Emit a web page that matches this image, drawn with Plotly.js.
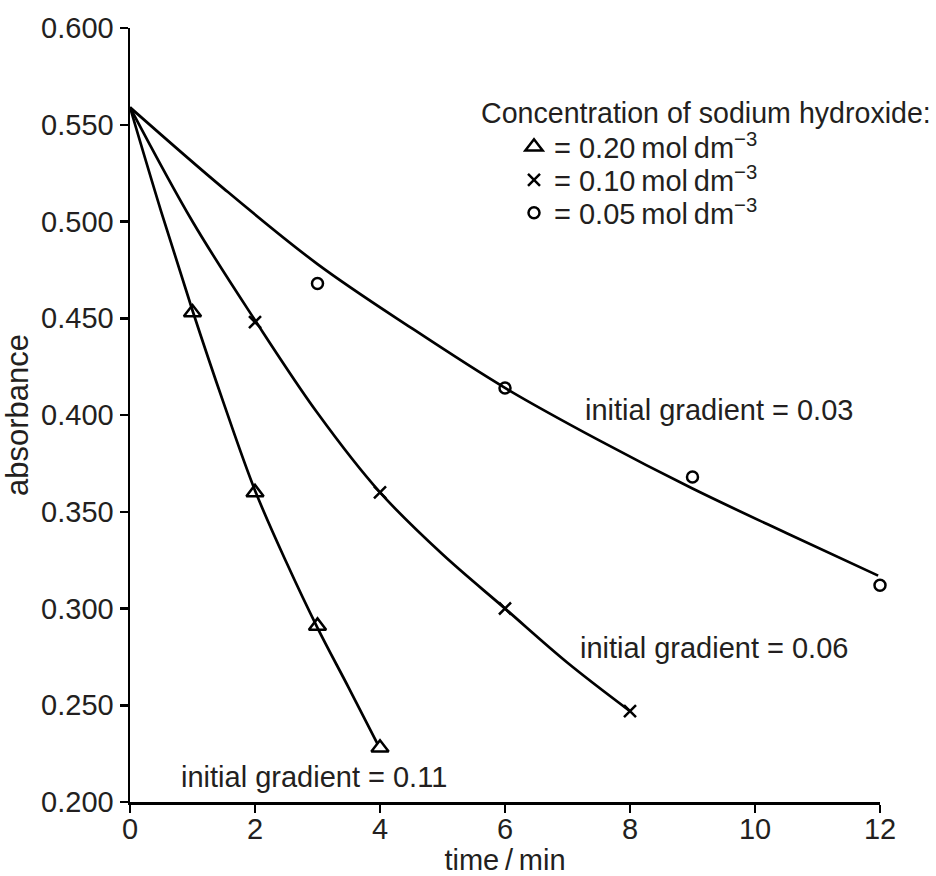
<!DOCTYPE html>
<html>
<head>
<meta charset="utf-8">
<script src="https://cdn.plot.ly/plotly-3.0.1.min.js"></script>
<style>html,body{margin:0;padding:0;background:#fff;}</style>
</head>
<body>
<div id="chart" style="width:936px;height:876px;"></div>
<script>
// measured points
const triTime = [1, 2, 3, 4];
const triAbs = [0.453, 0.360, 0.291, 0.228];
const crossTime = [2, 4, 6, 8];
const crossAbs = [0.448, 0.360, 0.300, 0.247];
const circTime = [3, 6, 9, 12];
const circAbs = [0.468, 0.414, 0.368, 0.312];

// hand-drawn best-fit curves
const triCurveTime = [0, 0.5, 1, 1.5, 2, 2.5, 3, 3.5, 3.96];
const triCurveAbs = [0.559, 0.505, 0.454, 0.406, 0.361, 0.324, 0.290, 0.259, 0.230];
const crossCurveTime = [0, 1, 2, 3, 4, 5, 6, 7, 8];
const crossCurveAbs = [0.559, 0.500, 0.449, 0.401, 0.360, 0.328, 0.300, 0.272, 0.247];
const circCurveTime = [0, 1.5, 3, 4.5, 6, 7.5, 9, 10.5, 11.97];
const circCurveAbs = [0.559, 0.517, 0.478, 0.445, 0.414, 0.387, 0.362, 0.339, 0.317];

const seriesNames = [
  '= 0.20\u2009mol\u2009dm<sup>\u22123</sup>',
  '= 0.10\u2009mol\u2009dm<sup>\u22123</sup>',
  '= 0.05\u2009mol\u2009dm<sup>\u22123</sup>'
];
const legendTitle = 'Concentration of sodium hydroxide:';
const gradientLabels = ['initial gradient = 0.11', 'initial gradient = 0.06', 'initial gradient = 0.03'];

const FONT = 'Liberation Sans, Arial, Helvetica, sans-serif';
const TXT = '#231f20';
const FS = 29;

function curve(x, y) {
  return {x: x, y: y, mode: 'lines', type: 'scatter', showlegend: false,
    hoverinfo: 'skip', line: {color: '#000', width: 2.7, shape: 'spline', smoothing: 1},
    cliponaxis: false};
}
function pts(x, y, name, symbol, size, lg) {
  return {x: x, y: y, mode: 'markers', type: 'scatter', name: name, legend: lg,
    marker: {symbol: symbol, size: size, color: '#000', line: {color: '#000', width: 2.5}},
    cliponaxis: false};
}

const data = [
  curve(triCurveTime, triCurveAbs),
  curve(crossCurveTime, crossCurveAbs),
  curve(circCurveTime, circCurveAbs),
  pts(triTime, triAbs, seriesNames[0], 'triangle-up-open', 15, 'legend'),
  pts(crossTime, crossAbs, seriesNames[1], 'x-thin-open', 12, 'legend2'),
  pts(circTime, circAbs, seriesNames[2], 'circle-open', 11, 'legend3')
];

function leg(y) {
  return {x: 0.512, y: y, xanchor: 'left', yanchor: 'middle',
    bgcolor: 'rgba(0,0,0,0)', font: {family: FONT, size: FS, color: TXT},
    itemclick: false, itemdoubleclick: false};
}

const layout = {
  width: 936, height: 876,
  margin: {l: 130, r: 56, t: 28, b: 74},
  paper_bgcolor: '#fff', plot_bgcolor: '#fff',
  font: {family: FONT, size: FS, color: TXT},
  showlegend: true,
  legend: leg(0.8463),
  legend2: leg(0.8036),
  legend3: leg(0.7610),
  xaxis: {range: [0, 12], tick0: 0, dtick: 2, showgrid: false, zeroline: false,
    showline: true, linecolor: '#000', linewidth: 2.5, ticks: 'outside', ticklen: 8,
    tickwidth: 2.5, tickcolor: '#000', ticklabelstandoff: -8,
    tickfont: {family: FONT, size: FS, color: TXT},
    title: {text: 'time\u2009/\u2009min', font: {family: FONT, size: FS, color: TXT}, standoff: 9}},
  yaxis: {range: [0.2, 0.6], tick0: 0.2, dtick: 0.05, tickformat: '.3f', showgrid: false,
    zeroline: false, showline: true, linecolor: '#000', linewidth: 2.5, ticks: 'outside',
    ticklen: 8, tickwidth: 2.5, tickcolor: '#000', ticklabelstandoff: 0,
    tickfont: {family: FONT, size: FS, color: TXT},
    title: {text: 'absorbance', font: {family: FONT, size: 31, color: TXT}, standoff: 4}},
  annotations: [
    {xref: 'paper', yref: 'paper', x: 0.4653, y: 0.890, xanchor: 'left', yanchor: 'middle',
     text: legendTitle, showarrow: false, font: {family: FONT, size: 28.6, color: TXT}},
    {x: 0.78, y: 0.213, xanchor: 'left', yanchor: 'middle', text: gradientLabels[0], showarrow: false},
    {x: 7.17, y: 0.2795, xanchor: 'left', yanchor: 'middle', text: gradientLabels[1], showarrow: false},
    {x: 7.25, y: 0.4025, xanchor: 'left', yanchor: 'middle', text: gradientLabels[2], showarrow: false}
  ]
};

Plotly.newPlot('chart', data, layout, {displayModeBar: false, staticPlot: true});
</script>
</body>
</html>
